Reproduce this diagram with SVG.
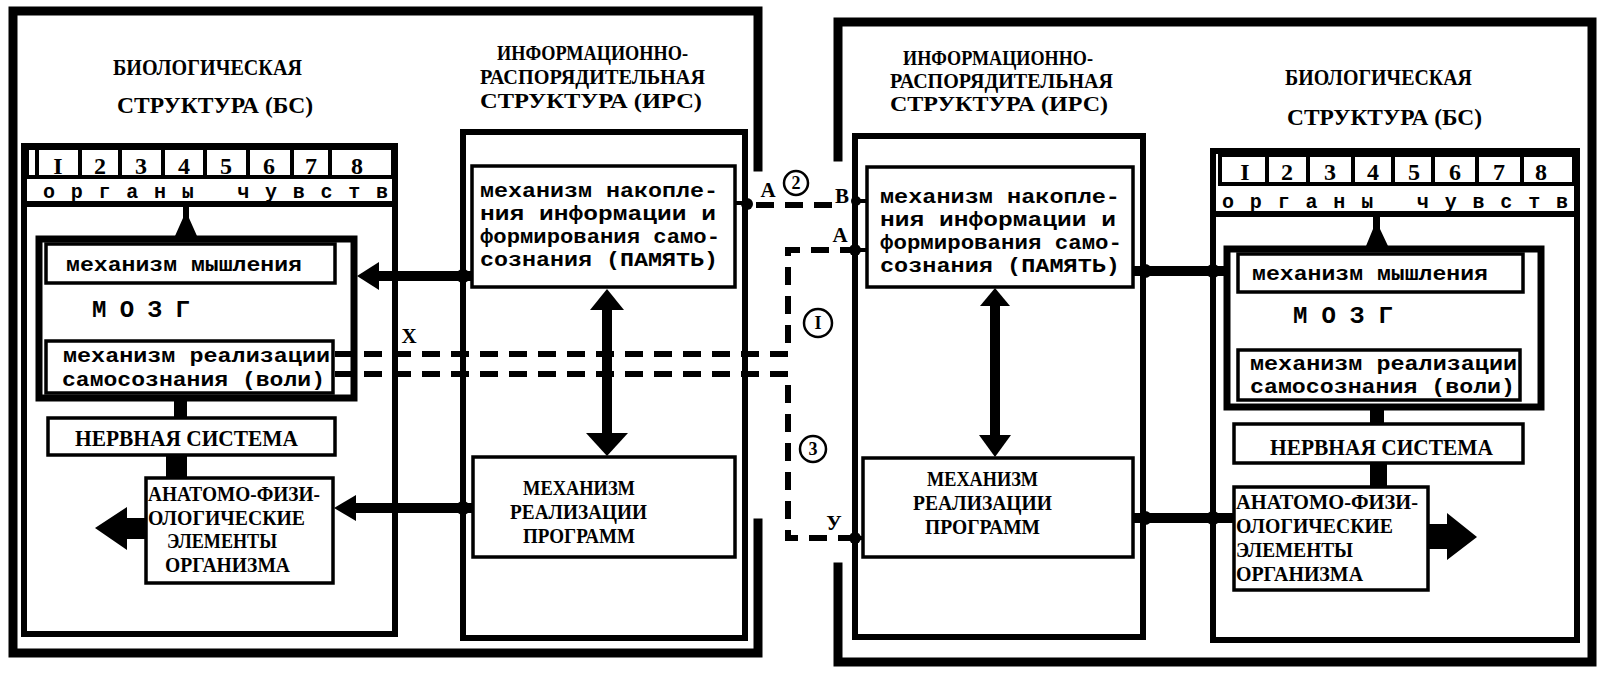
<svg xmlns="http://www.w3.org/2000/svg" width="1600" height="678" viewBox="0 0 1600 678">
<style>
.outer{fill:none;stroke:#000;stroke-width:9;stroke-linecap:square}
.frame{fill:none;stroke:#000;stroke-width:6}
.box{fill:#fff;stroke:#000;stroke-width:3.5}
.brain{fill:#fff;stroke:#000;stroke-width:7}
.cell{fill:#fff;stroke:#000;stroke-width:4}
.ttl{font-family:"Liberation Serif","DejaVu Serif",serif;font-weight:bold;font-size:23px;fill:#000}
.ttl2{font-family:"Liberation Serif","DejaVu Serif",serif;font-weight:bold;font-size:20px;fill:#000}
.cap{font-family:"Liberation Serif","DejaVu Serif",serif;font-weight:bold;font-size:24px;fill:#000}
.cap2{font-family:"Liberation Serif","DejaVu Serif",serif;font-weight:bold;font-size:20px;fill:#000}
.num{font-family:"Liberation Serif","DejaVu Serif",serif;font-weight:bold;font-size:24px;fill:#000;text-anchor:middle}
.lc{font-family:"Liberation Mono","DejaVu Sans Mono",monospace;font-weight:bold;font-size:20px;fill:#000}
.mono{font-family:"Liberation Mono","DejaVu Sans Mono",monospace;font-weight:bold;font-size:24px;fill:#000}
.lbl{font-family:"Liberation Serif","DejaVu Serif",serif;font-weight:bold;font-size:21px;fill:#000;text-anchor:middle}
.cn{font-family:"Liberation Serif","DejaVu Serif",serif;font-weight:bold;font-size:18px;fill:#000;text-anchor:middle}
.thick{fill:none;stroke:#000;stroke-width:10}
.dash{fill:none;stroke:#000;stroke-width:6;stroke-dasharray:18 11}
.sol{fill:#000}
.circ{fill:#fff;stroke:#000;stroke-width:2.5}
</style>
<rect width="1600" height="678" fill="#fff"/>

<!-- ===== LEFT SYSTEM ===== -->
<g id="left-outer-frame">
  <path class="outer" d="M758,167 V11 H13 V653 H758 V523"/>
</g>
<g id="left-bs-frame">
  <path class="frame" d="M24,146 H395 V634 H24 Z"/>
  <text class="ttl" x="113" y="75" textLength="189" lengthAdjust="spacingAndGlyphs">БИОЛОГИЧЕСКАЯ</text>
  <text class="ttl" x="117" y="113" textLength="196" lengthAdjust="spacingAndGlyphs">СТРУКТУРА  (БС)</text>
</g>
<g id="left-irs-frame">
  <rect class="frame" x="463" y="132" width="282" height="506"/>
  <text class="ttl2" x="497" y="60" textLength="191" lengthAdjust="spacingAndGlyphs">ИНФОРМАЦИОННО-</text>
  <text class="ttl2" x="480" y="84" textLength="225" lengthAdjust="spacingAndGlyphs">РАСПОРЯДИТЕЛЬНАЯ</text>
  <text class="ttl2" x="480" y="108" textLength="222" lengthAdjust="spacingAndGlyphs">СТРУКТУРА   (ИРС)</text>
</g>
<g id="left-senses">
  <rect class="cell" x="27" y="148" width="10" height="29"/>
  <rect class="cell" x="37" y="148" width="43" height="29"/>
  <rect class="cell" x="80" y="148" width="40" height="29"/>
  <rect class="cell" x="120" y="148" width="43" height="29"/>
  <rect class="cell" x="163" y="148" width="42" height="29"/>
  <rect class="cell" x="205" y="148" width="43" height="29"/>
  <rect class="cell" x="248" y="148" width="44" height="29"/>
  <rect class="cell" x="292" y="148" width="38" height="29"/>
  <rect class="cell" x="330" y="148" width="63" height="29"/>
  <text class="num" x="58" y="174">I</text>
  <text class="num" x="100" y="174">2</text>
  <text class="num" x="141" y="174">3</text>
  <text class="num" x="184" y="174">4</text>
  <text class="num" x="226" y="174">5</text>
  <text class="num" x="269" y="174">6</text>
  <text class="num" x="311" y="174">7</text>
  <text class="num" x="357" y="174">8</text>
  <line x1="24" y1="204" x2="395" y2="204" stroke="#000" stroke-width="6"/>
  <text class="lc" x="43" y="198" font-size="18" textLength="345" lengthAdjust="spacing">органы  чувств</text>
</g>
<g id="left-brain">
  <rect class="brain" x="39" y="239" width="315" height="159"/>
  <text class="mono" x="92" y="317" textLength="98" lengthAdjust="spacing">М О З Г</text>
</g>
<g id="left-thinking">
  <rect class="box" x="46" y="244" width="289" height="39"/>
  <text class="lc" x="66" y="271" textLength="236" lengthAdjust="spacingAndGlyphs">механизм мышления</text>
</g>
<g id="left-will">
  <rect class="box" x="46" y="341" width="287" height="52"/>
  <text class="lc" x="63" y="362" textLength="267" lengthAdjust="spacingAndGlyphs">механизм реализации</text>
  <text class="lc" x="62" y="386" textLength="263" lengthAdjust="spacingAndGlyphs">самосознания (воли)</text>
</g>
<g id="left-nervous">
  <rect class="box" x="48" y="418" width="287" height="37"/>
  <text class="cap" x="75" y="446" textLength="223" lengthAdjust="spacingAndGlyphs">НЕРВНАЯ  СИСТЕМА</text>
</g>
<g id="left-anatomy">
  <rect class="box" x="146" y="478" width="187" height="105"/>
  <text class="cap2" x="148" y="501" textLength="172" lengthAdjust="spacingAndGlyphs">АНАТОМО-ФИЗИ-</text>
  <text class="cap2" x="148" y="525" textLength="157" lengthAdjust="spacingAndGlyphs">ОЛОГИЧЕСКИЕ</text>
  <text class="cap2" x="167" y="548" textLength="110" lengthAdjust="spacingAndGlyphs">ЭЛЕМЕНТЫ</text>
  <text class="cap2" x="165" y="572" textLength="125" lengthAdjust="spacingAndGlyphs">ОРГАНИЗМА</text>
</g>
<g id="left-memory">
  <rect class="box" x="472" y="166" width="263" height="121"/>
  <text class="lc" x="480" y="197" textLength="238" lengthAdjust="spacingAndGlyphs">механизм накопле-</text>
  <text class="lc" x="480" y="220" textLength="236" lengthAdjust="spacingAndGlyphs">ния информации и</text>
  <text class="lc" x="480" y="243" textLength="240" lengthAdjust="spacingAndGlyphs">формирования само-</text>
  <text class="lc" x="480" y="266" textLength="238" lengthAdjust="spacingAndGlyphs">сознания (ПАМЯТЬ)</text>
</g>
<g id="left-program">
  <rect class="box" x="473" y="457" width="262" height="100"/>
  <text class="cap2" x="523" y="495" textLength="112" lengthAdjust="spacingAndGlyphs">МЕХАНИЗМ</text>
  <text class="cap2" x="510" y="519" textLength="137" lengthAdjust="spacingAndGlyphs">РЕАЛИЗАЦИИ</text>
  <text class="cap2" x="523" y="543" textLength="112" lengthAdjust="spacingAndGlyphs">ПРОГРАММ</text>
</g>

<!-- ===== RIGHT SYSTEM ===== -->
<g id="right-outer-frame">
  <path class="outer" d="M838,157 V22 H1592 V662 H838 V567"/>
</g>
<g id="right-irs-frame">
  <rect class="frame" x="855" y="136" width="288" height="501"/>
  <text class="ttl2" x="903" y="65" textLength="190" lengthAdjust="spacingAndGlyphs">ИНФОРМАЦИОННО-</text>
  <text class="ttl2" x="890" y="88" textLength="223" lengthAdjust="spacingAndGlyphs">РАСПОРЯДИТЕЛЬНАЯ</text>
  <text class="ttl2" x="890" y="111" textLength="218" lengthAdjust="spacingAndGlyphs">СТРУКТУРА   (ИРС)</text>
</g>
<g id="right-bs-frame">
  <rect class="frame" x="1213" y="151" width="364" height="489"/>
  <text class="ttl" x="1285" y="85" textLength="187" lengthAdjust="spacingAndGlyphs">БИОЛОГИЧЕСКАЯ</text>
  <text class="ttl" x="1287" y="125" textLength="195" lengthAdjust="spacingAndGlyphs">СТРУКТУРА  (БС)</text>
</g>
<g id="right-senses">
  <rect class="cell" x="1220" y="155" width="47" height="29"/>
  <rect class="cell" x="1267" y="155" width="41" height="29"/>
  <rect class="cell" x="1308" y="155" width="45" height="29"/>
  <rect class="cell" x="1353" y="155" width="40" height="29"/>
  <rect class="cell" x="1393" y="155" width="40" height="29"/>
  <rect class="cell" x="1433" y="155" width="44" height="29"/>
  <rect class="cell" x="1477" y="155" width="45" height="29"/>
  <rect class="cell" x="1522" y="155" width="52" height="29"/>
  <text class="num" x="1245" y="180">I</text>
  <text class="num" x="1287" y="180">2</text>
  <text class="num" x="1330" y="180">3</text>
  <text class="num" x="1373" y="180">4</text>
  <text class="num" x="1414" y="180">5</text>
  <text class="num" x="1455" y="180">6</text>
  <text class="num" x="1499" y="180">7</text>
  <text class="num" x="1541" y="180">8</text>
  <line x1="1213" y1="214" x2="1577" y2="214" stroke="#000" stroke-width="6"/>
  <text class="lc" x="1222" y="208" font-size="18" textLength="346" lengthAdjust="spacing">органы   чувств</text>
</g>
<g id="right-brain">
  <rect class="brain" x="1227" y="249" width="314" height="158" stroke-width="8"/>
  <text class="mono" x="1293" y="323" textLength="100" lengthAdjust="spacing">М О З Г</text>
</g>
<g id="right-thinking">
  <rect class="box" x="1238" y="254" width="285" height="38"/>
  <text class="lc" x="1252" y="280" textLength="236" lengthAdjust="spacingAndGlyphs">механизм мышления</text>
</g>
<g id="right-will">
  <rect class="box" x="1238" y="350" width="282" height="50"/>
  <text class="lc" x="1250" y="370" textLength="267" lengthAdjust="spacingAndGlyphs">механизм реализации</text>
  <text class="lc" x="1250" y="393" textLength="265" lengthAdjust="spacingAndGlyphs">самосознания (воли)</text>
</g>
<g id="right-nervous">
  <rect class="box" x="1234" y="424" width="289" height="39"/>
  <text class="cap" x="1270" y="455" textLength="223" lengthAdjust="spacingAndGlyphs">НЕРВНАЯ   СИСТЕМА</text>
</g>
<g id="right-anatomy">
  <rect class="box" x="1234" y="487" width="194" height="103"/>
  <text class="cap2" x="1236" y="509" textLength="182" lengthAdjust="spacingAndGlyphs">АНАТОМО-ФИЗИ-</text>
  <text class="cap2" x="1236" y="533" textLength="157" lengthAdjust="spacingAndGlyphs">ОЛОГИЧЕСКИЕ</text>
  <text class="cap2" x="1236" y="557" textLength="117" lengthAdjust="spacingAndGlyphs">ЭЛЕМЕНТЫ</text>
  <text class="cap2" x="1236" y="581" textLength="127" lengthAdjust="spacingAndGlyphs">ОРГАНИЗМА</text>
</g>
<g id="right-memory">
  <rect class="box" x="867" y="167" width="266" height="120"/>
  <text class="lc" x="880" y="203" textLength="240" lengthAdjust="spacingAndGlyphs">механизм накопле-</text>
  <text class="lc" x="880" y="226" textLength="236" lengthAdjust="spacingAndGlyphs">ния информации и</text>
  <text class="lc" x="880" y="249" textLength="242" lengthAdjust="spacingAndGlyphs">формирования само-</text>
  <text class="lc" x="880" y="272" textLength="240" lengthAdjust="spacingAndGlyphs">сознания (ПАМЯТЬ)</text>
</g>
<g id="right-program">
  <rect class="box" x="863" y="458" width="270" height="99"/>
  <text class="cap2" x="927" y="486" textLength="111" lengthAdjust="spacingAndGlyphs">МЕХАНИЗМ</text>
  <text class="cap2" x="913" y="510" textLength="139" lengthAdjust="spacingAndGlyphs">РЕАЛИЗАЦИИ</text>
  <text class="cap2" x="925" y="534" textLength="115" lengthAdjust="spacingAndGlyphs">ПРОГРАММ</text>
</g>

<!-- ===== CONNECTORS ===== -->
<g id="connectors">
  <!-- left internal -->
  <polygon class="sol" points="183,204 189,204 189,218 197,236 175,236 183,218"/>
  <rect class="sol" x="174" y="400" width="13" height="19"/>
  <rect class="sol" x="166" y="455" width="21" height="23"/>
  <polygon class="sol" points="146,518 127,518 127,507 95,528 127,550 127,539 146,539"/>
  <line class="thick" x1="377" y1="276" x2="472" y2="276"/>
  <polygon class="sol" points="357,276 379,262 379,290"/>
  <circle class="sol" cx="463" cy="276" r="7"/>
  <line class="thick" x1="355" y1="508" x2="473" y2="508"/>
  <polygon class="sol" points="334,508 356,495 356,521"/>
  <circle class="sol" cx="463" cy="508" r="7"/>
  <rect class="sol" x="602" y="306" width="10" height="130"/>
  <polygon class="sol" points="607,289 590,310 624,310"/>
  <polygon class="sol" points="607,456 586,433 628,433"/>

  <!-- right internal -->
  <polygon class="sol" points="1373,214 1380,214 1380,229 1388,246 1366,246 1373,229"/>
  <rect class="sol" x="1370" y="407" width="14" height="18"/>
  <rect class="sol" x="1370" y="463" width="17" height="24"/>
  <polygon class="sol" points="1428,524 1447,524 1447,513 1477,537 1447,560 1447,549 1428,549"/>
  <line class="thick" x1="1133" y1="271" x2="1227" y2="271"/>
  <circle class="sol" cx="1145" cy="271" r="7"/>
  <circle class="sol" cx="1213" cy="271" r="7"/>
  <line class="thick" x1="1133" y1="518" x2="1234" y2="518"/>
  <circle class="sol" cx="1145" cy="518" r="7"/>
  <circle class="sol" cx="1213" cy="518" r="7"/>
  <rect class="sol" x="990" y="303" width="10" height="134"/>
  <polygon class="sol" points="995,288 980,306 1010,306"/>
  <polygon class="sol" points="995,457 979,435 1011,435"/>

  <!-- links between systems -->
  <line x1="735" y1="203" x2="748" y2="203" stroke="#000" stroke-width="4"/>
  <circle class="sol" cx="747" cy="204" r="6"/>
  <path class="dash" d="M756,205 H832"/>
  <circle class="sol" cx="856" cy="201" r="5"/>
  <line x1="852" y1="201" x2="867" y2="201" stroke="#000" stroke-width="4"/>

  <path class="dash" d="M335,354 H788 V250 H850"/>
  <circle class="sol" cx="855" cy="250" r="6"/>
  <line x1="850" y1="250" x2="867" y2="250" stroke="#000" stroke-width="4"/>

  <path class="dash" d="M335,374 H788 V538 H850"/>
  <circle class="sol" cx="855" cy="538" r="6"/>
  <line x1="850" y1="538" x2="863" y2="538" stroke="#000" stroke-width="4"/>

  <text class="lbl" x="768" y="197">А</text>
  <text class="lbl" x="842" y="203">В</text>
  <text class="lbl" x="840" y="242">А</text>
  <text class="lbl" x="834" y="530">У</text>
  <text class="lbl" x="409" y="343">Х</text>

  <circle class="circ" cx="796" cy="183" r="12"/>
  <text class="cn" x="796" y="189">2</text>
  <circle class="circ" cx="818" cy="323" r="14"/>
  <text class="cn" x="818" y="329">I</text>
  <circle class="circ" cx="813" cy="449" r="13"/>
  <text class="cn" x="813" y="455">3</text>
</g>
</svg>
